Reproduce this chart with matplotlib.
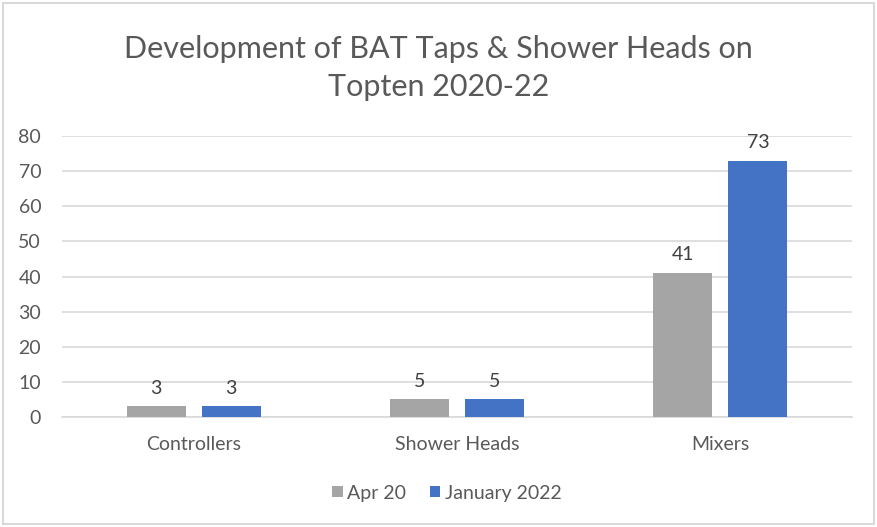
import matplotlib
matplotlib.use("Agg")
import matplotlib.pyplot as plt
from matplotlib.patches import Rectangle
import numpy as np

categories = ["Controllers", "Shower Heads", "Mixers"]
series_names = ["Apr 20", "January 2022"]
apr20 = [3, 5, 41]
jan2022 = [3, 5, 73]
yticks = [0, 10, 20, 30, 40, 50, 60, 70, 80]

colors = ["#A5A5A5", "#4472C4"]
text_color = "#595959"
plt.rcParams['font.family'] = ['Lato', 'DejaVu Sans']

fig = plt.figure(figsize=(8.77, 5.27), dpi=100)
fig.patch.set_facecolor("white")
ax = fig.add_axes([62/877, 1-417/527, 790/877, 281/527])

x = np.arange(len(categories))
w = 0.225
off = 0.1425
b1 = ax.bar(x - off, apr20, w, color=colors[0], label=series_names[0], zorder=3)
b2 = ax.bar(x + off, jan2022, w, color=colors[1], label=series_names[1], zorder=3)

for bars, vals in ((b1, apr20), (b2, jan2022)):
    for r, v in zip(bars, vals):
        ax.annotate(str(v), (r.get_x() + r.get_width()/2, v), xytext=(0, 7),
                    textcoords="offset points", ha="center", va="bottom",
                    fontsize=14, color="#404040")

ax.set_xlim(-0.5, 2.5)
ax.set_ylim(0, 80)
ax.set_yticks(yticks)
ax.set_xticks(x)
ax.set_xticklabels(categories)
ax.tick_params(axis='both', length=0, labelsize=14, labelcolor=text_color)
ax.tick_params(axis='y', pad=15)
ax.tick_params(axis='x', pad=14)
ax.grid(axis='y', color="#D9D9D9", linewidth=1.2, zorder=0)
for s in ["top", "right", "left"]:
    ax.spines[s].set_visible(False)
ax.spines["bottom"].set_color("#D9D9D9")
ax.spines["bottom"].set_linewidth(1.2)

fig.text(0.5, 1 - 68/527, "Development of BAT Taps & Shower Heads on\nTopten 2020-22",
         ha="center", va="center", fontsize=22, color=text_color, linespacing=1.4)

fig.legend(handles=[b1, b2], labels=series_names, loc="center",
           bbox_to_anchor=(447/877, 1 - 493/527), ncol=2, frameon=False,
           fontsize=14, labelcolor=text_color, handlelength=0.55, handleheight=0.55,
           handletextpad=0.25, columnspacing=1.2)

fig.add_artist(Rectangle((3/877, 3/527), 871/877, 521/527, transform=fig.transFigure,
                         fill=False, edgecolor="#D9D9D9", linewidth=1.5))

fig.savefig("out.png", dpi=100)
